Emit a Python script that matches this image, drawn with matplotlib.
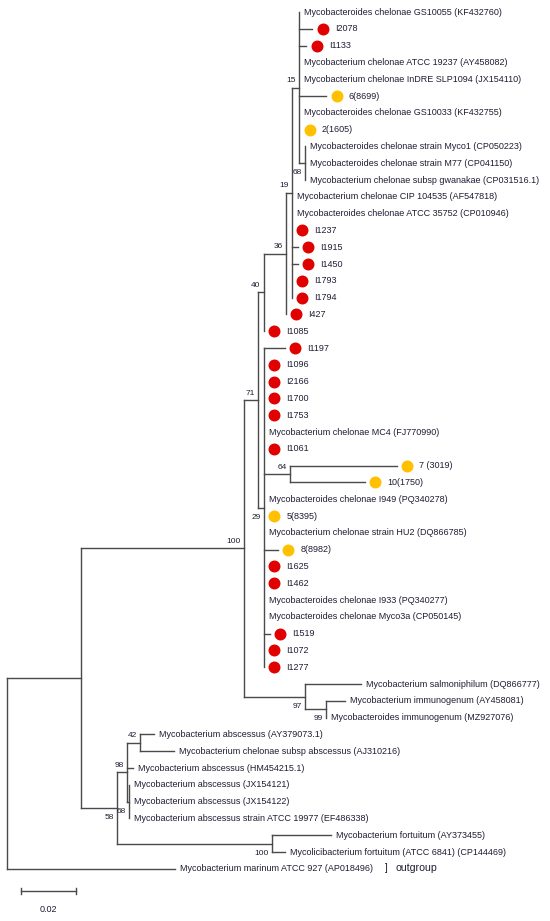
import matplotlib
matplotlib.use("Agg")
import matplotlib.pyplot as plt
from matplotlib.transforms import offset_copy

# leaf labels, top to bottom (tokens t0..t51 in the newick string below)
leaf_names = [
    "Mycobacteroides chelonae GS10055 (KF432760)",
    "I2078",
    "I1133",
    "Mycobacterium chelonae ATCC 19237 (AY458082)",
    "Mycobacterium chelonae InDRE SLP1094 (JX154110)",
    "6(8699)",
    "Mycobacteroides chelonae GS10033 (KF432755)",
    "2(1605)",
    "Mycobacteroides chelonae strain Myco1 (CP050223)",
    "Mycobacteroides chelonae strain M77 (CP041150)",
    "Mycobacterium chelonae subsp gwanakae (CP031516.1)",
    "Mycobacterium chelonae CIP 104535 (AF547818)",
    "Mycobacteroides chelonae ATCC 35752 (CP010946)",
    "I1237",
    "I1915",
    "I1450",
    "I1793",
    "I1794",
    "I427",
    "I1085",
    "I1197",
    "I1096",
    "I2166",
    "I1700",
    "I1753",
    "Mycobacterium chelonae MC4 (FJ770990)",
    "I1061",
    "7 (3019)",
    "10(1750)",
    "Mycobacteroides chelonae I949 (PQ340278)",
    "5(8395)",
    "Mycobacterium chelonae strain HU2 (DQ866785)",
    "8(8982)",
    "I1625",
    "I1462",
    "Mycobacteroides chelonae I933 (PQ340277)",
    "Mycobacteroides chelonae Myco3a (CP050145)",
    "I1519",
    "I1072",
    "I1277",
    "Mycobacterium salmoniphilum (DQ866777)",
    "Mycobacterium immunogenum (AY458081)",
    "Mycobacteroides immunogenum (MZ927076)",
    "Mycobacterium abscessus (AY379073.1)",
    "Mycobacterium chelonae subsp abscessus (AJ310216)",
    "Mycobacterium abscessus (HM454215.1)",
    "Mycobacterium abscessus (JX154121)",
    "Mycobacterium abscessus (JX154122)",
    "Mycobacterium abscessus strain ATCC 19977 (EF486338)",
    "Mycobacterium fortuitum (AY373455)",
    "Mycolicibacterium fortuitum (ATCC 6841) (CP144469)",
    "Mycobacterium marinum ATCC 927 (AP018496)",
]

red_isolates = ["I2078", "I1133", "I1237", "I1915", "I1450", "I1793", "I1794",
                "I427", "I1085", "I1197", "I1096", "I2166", "I1700", "I1753",
                "I1061", "I1625", "I1462", "I1519", "I1072", "I1277"]
yellow_isolates = ["6(8699)", "2(1605)", "7 (3019)", "10(1750)", "5(8395)", "8(8982)"]
outgroup_leaf = "Mycobacterium marinum ATCC 927 (AP018496)"

# topology, bootstrap values and branch lengths (substitutions/site)
tree_newick = (
    "((((((((t0:0,t1:0.0048,t2:0.0026,t3:0,t4:0,t5:0.0099,t6:0,t7:0,"
    "(t8:0,t9:0,t10:0)68:0.0022)15:0.0026,"
    "t11:0,t12:0,t13:0,t14:0.0022,t15:0.0022,t16:0,t17:0)19:0.0022,"
    "t18:0)36:0.0081,t19:0)40:0.0022,"
    "(t20:0.0077,t21:0,t22:0,t23:0,t24:0,t25:0,t26:0,"
    "(t27:0.0391,t28:0.0274)64:0.0095,"
    "t29:0,t30:0,t31:0,t32:0.0051,t33:0,t34:0,t35:0,t36:0,t37:0.0022,t38:0,t39:0)29:0.0022"
    ")71:0.0051,"
    "(t40:0.0205,(t41:0.0069,t42:0)99:0.0077)97:0.0223)100:0.0596,"
    "(((t43:0.0051,t44:0.0124)42:0.0048,t45:0.0022,(t46:0,t47:0,t48:0)68:0.0007)98:0.0037,"
    "(t49:0.0216,t50:0.0048)100:0.0567)58:0.0132):0.0271,"
    "t51:0.0614);"
)

scale_bar_length = 0.02


def parse_newick(s):
    pos = 0

    def node():
        nonlocal pos
        n = {"children": [], "label": "", "length": 0.0}
        if s[pos] == "(":
            pos += 1
            while True:
                n["children"].append(node())
                if s[pos] == ",":
                    pos += 1
                    continue
                pos += 1  # ')'
                break
        start = pos
        while s[pos] not in ",():;":
            pos += 1
        n["label"] = s[start:pos]
        if s[pos] == ":":
            pos += 1
            start = pos
            while s[pos] not in ",();":
                pos += 1
            n["length"] = float(s[start:pos])
        return n

    return node()


root = parse_newick(tree_newick)


def layout(n, x0):
    n["x"] = x0 + n["length"]
    if not n["children"]:
        n["y"] = float(n["label"][1:])
    else:
        for c in n["children"]:
            layout(c, n["x"])
        n["y"] = (n["children"][0]["y"] + n["children"][-1]["y"]) / 2


root["length"] = 0.0
layout(root, 0.0)

# pixel geometry of the reference
W, H = 550, 921
px_per_unit = 2735.0
root_px, top_px, row_px = 7, 12, 16.8

fig = plt.figure(figsize=(W / 100, H / 100), dpi=100)
ax = fig.add_axes([0, 0, 1, 1])
ax.set_xlim(-root_px / px_per_unit, (W - root_px) / px_per_unit)
ax.set_ylim((H - top_px) / row_px, -top_px / row_px)
ax.axis("off")

line_kw = dict(color="#4a4a4a", lw=1.0, solid_capstyle="projecting")
text_color = "#1e1e34"
font = ["Liberation Sans", "DejaVu Sans"]


def draw(n, parent, is_last):
    if parent is not None and n["length"] > 0:
        ax.plot([parent["x"], n["x"]], [n["y"], n["y"]], **line_kw)
    if n["children"]:
        ax.plot([n["x"], n["x"]], [n["children"][0]["y"], n["children"][-1]["y"]], **line_kw)
        if n["label"]:
            dy = -6.8 if is_last else 5.0
            ax.annotate(n["label"], (n["x"], n["y"]), xytext=(-2.5, dy),
                        textcoords="offset points", ha="right", va="center",
                        fontsize=6, color=text_color, family=font)
        for i, c in enumerate(n["children"]):
            draw(c, n, i == len(n["children"]) - 1)
    else:
        name = leaf_names[int(n["label"][1:])]
        colour = None
        if name in red_isolates:
            colour = "#e00000"
        elif name in yellow_isolates:
            colour = "#ffc000"
        if colour:
            tr = offset_copy(ax.transData, fig=fig, x=7.3, y=0, units="points")
            ax.plot([n["x"]], [n["y"]], "o", ms=7.6, color=colour, mec=colour,
                    transform=tr, zorder=3)
            dx = 16.0
        else:
            dx = 3.6
        ax.annotate(name, (n["x"], n["y"]), xytext=(dx, 0), textcoords="offset points",
                    ha="left", va="center", fontsize=6.5, color=text_color, family=font)
        if name == outgroup_leaf:
            ax.annotate("]", (n["x"], n["y"]), xytext=(151, 0.3), textcoords="offset points",
                        ha="left", va="center", fontsize=7, color=text_color, family=font)
            ax.annotate("outgroup", (n["x"], n["y"]), xytext=(159, 0.3), textcoords="offset points",
                        ha="left", va="center", fontsize=7.6, color=text_color, family=font)


draw(root, None, False)

# scale bar
bar_x0 = (21 - root_px) / px_per_unit
bar_y = (891 - top_px) / row_px
ax.plot([bar_x0, bar_x0 + scale_bar_length], [bar_y, bar_y], **line_kw)
ax.plot([bar_x0, bar_x0], [bar_y - 0.15, bar_y + 0.15], **line_kw)
ax.plot([bar_x0 + scale_bar_length] * 2, [bar_y - 0.15, bar_y + 0.15], **line_kw)
ax.annotate("%.2f" % scale_bar_length, (bar_x0 + scale_bar_length / 2, bar_y),
            xytext=(0, -13.5), textcoords="offset points", ha="center", va="center",
            fontsize=6.5, color=text_color, family=font)

fig.savefig("out.png", dpi=100, facecolor="white")
